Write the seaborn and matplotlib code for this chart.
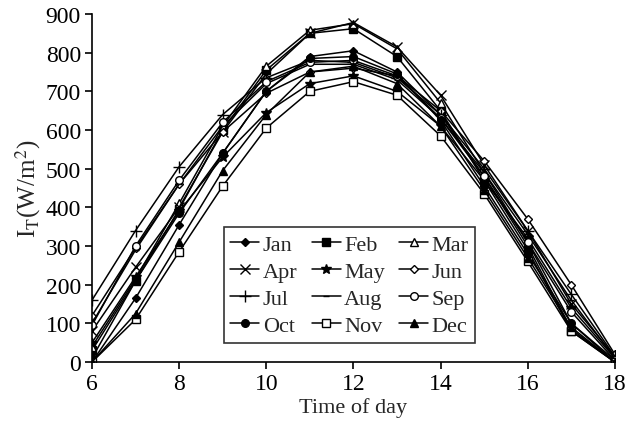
import matplotlib
matplotlib.use('Agg')
import matplotlib.pyplot as plt
import pandas as pd
import seaborn as sns

hours = [6, 7, 8, 9, 10, 11, 12, 13, 14, 15, 16, 17, 18]
months = ['Jan', 'Feb', 'Mar', 'Apr', 'May', 'Jun',
          'Jul', 'Aug', 'Sep', 'Oct', 'Nov', 'Dec']

jan = [0, 165, 355, 540, 700, 790, 805, 750, 640, 480, 300, 85, 0]
feb = [30, 210, 395, 600, 755, 850, 862, 790, 650, 470, 290, 80, 0]
mar = [40, 215, 410, 610, 765, 858, 875, 810, 670, 490, 310, 100, 5]
apr = [80, 245, 400, 595, 745, 850, 878, 815, 690, 510, 340, 150, 15]
may = [50, 220, 390, 530, 645, 720, 740, 700, 610, 470, 320, 140, 10]
jun = [120, 295, 460, 595, 695, 750, 760, 740, 650, 520, 370, 200, 20]
jul = [160, 340, 505, 640, 735, 780, 775, 735, 640, 500, 340, 175, 15]
aug = [100, 290, 460, 610, 720, 770, 770, 730, 630, 490, 330, 160, 10]
sep = [95, 300, 470, 620, 725, 775, 780, 740, 630, 480, 310, 130, 5]
oct_ = [10, 210, 385, 540, 700, 785, 790, 745, 625, 455, 280, 100, 0]
nov = [0, 110, 285, 455, 605, 700, 725, 690, 585, 435, 260, 80, 0]
dec = [0, 125, 310, 495, 640, 750, 765, 720, 610, 445, 270, 90, 0]

series = [jan, feb, mar, apr, may, jun, jul, aug, sep, oct_, nov, dec]

# marqueurs style Excel
markers = {'Jan': ('D', 'black'), 'Feb': ('s', 'black'), 'Mar': ('^', 'white'),
           'Apr': ('x', 'black'), 'May': ('*', 'black'), 'Jun': ('D', 'white'),
           'Jul': ('+', 'black'), 'Aug': ('_', 'black'), 'Sep': ('o', 'white'),
           'Oct': ('o', 'black'), 'Nov': ('s', 'white'), 'Dec': ('^', 'black')}
sizes = {'D': 4.5, 's': 5.5, '^': 6, 'x': 6.5, '*': 7, '+': 8, '_': 5, 'o': 5.5}

rows = []
for m, vals in zip(months, series):
    for h, v in zip(hours, vals):
        rows.append({'hour': h, 'value': v, 'month': m})
df = pd.DataFrame(rows)

sns.set_style('ticks')
plt.rcParams['font.family'] = ['Liberation Serif', 'DejaVu Serif']
plt.rcParams['mathtext.fontset'] = 'stix'

fig = plt.figure(figsize=(6.28, 4.35), dpi=100)
ax = fig.add_axes([0.1465, 0.1655, 0.8325, 0.80])

for m in months:
    mk, fc = markers[m]
    sns.lineplot(data=df[df['month'] == m], x='hour', y='value', ax=ax,
                 color='black', linewidth=1.1, marker=mk,
                 markersize=sizes[mk], markerfacecolor=fc,
                 markeredgecolor='black', markeredgewidth=1.0, label=m)

ax.set_xlim(6, 18)
ax.set_ylim(0, 900)
ax.set_xticks(range(6, 19, 2))
ax.set_yticks(range(0, 901, 100))
ax.tick_params(labelsize=17, direction='out', length=5, width=1.2,
               colors='black', pad=3)
for s in ['top', 'right']:
    ax.spines[s].set_visible(False)
for s in ['left', 'bottom']:
    ax.spines[s].set_linewidth(1.2)
    ax.spines[s].set_color('black')
ax.set_xlabel('Time of day', fontsize=16, labelpad=2)
ax.set_ylabel(r'I$_{\mathrm{T}}$(W/m$^2$)', fontsize=18, labelpad=2)

# remettre l'ordre par ligne (Jan Feb Mar / Apr May Jun ...)
handles, labels = ax.get_legend_handles_labels()
order = [i + 3 * r for c in range(3) for r in range(4) for i in [c]]
leg = ax.legend([handles[i] for i in order], [labels[i] for i in order],
                ncol=3, loc='lower left', bbox_to_anchor=(0.252, 0.055),
                fontsize=16, frameon=True, fancybox=False, edgecolor='black',
                handlelength=1.3, handletextpad=0.15, columnspacing=0.65,
                labelspacing=0.3, borderpad=0.3, borderaxespad=0)
leg.get_frame().set_linewidth(1.2)

plt.savefig('out.png', dpi=100)
